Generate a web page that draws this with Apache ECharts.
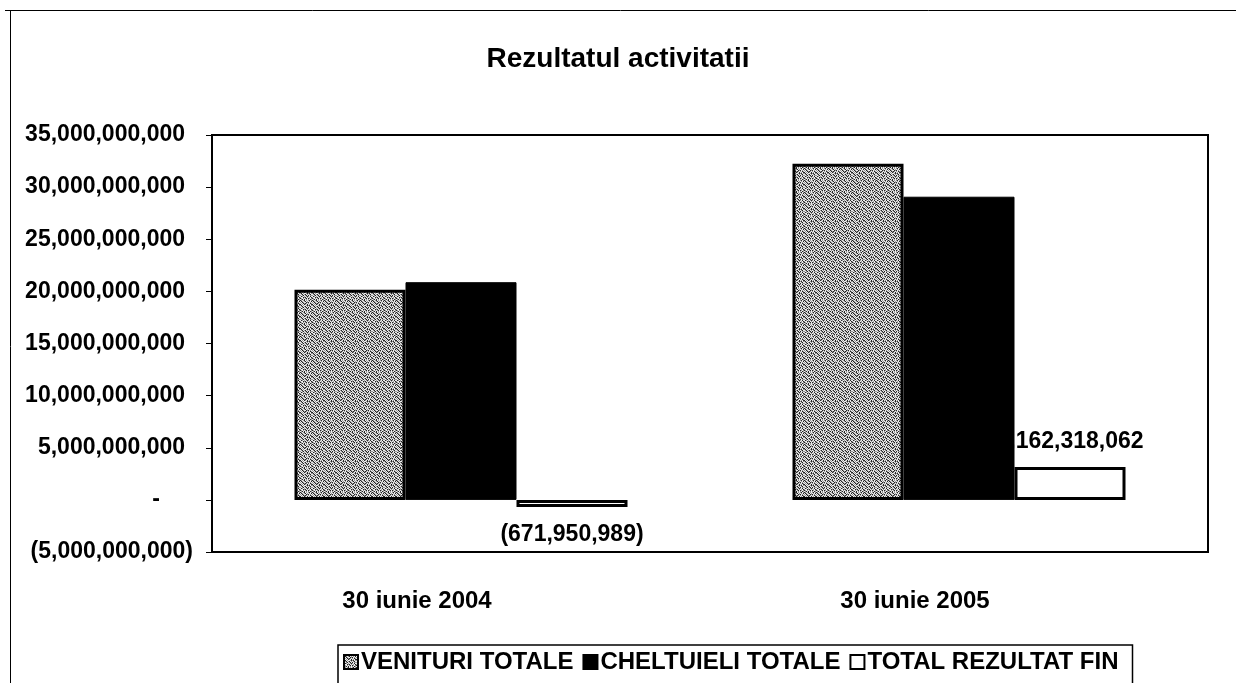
<!DOCTYPE html>
<html><head><meta charset="utf-8">
<script src="https://cdn.jsdelivr.net/npm/echarts@6/dist/echarts.min.js"></script>
<style>html,body{margin:0;padding:0;background:#fff}#c{width:1236px;height:683px}</style>
</head><body><div id="c"></div>
<script>
const titleText = 'Rezultatul activitatii';
const categories = ['30 iunie 2004', '30 iunie 2005'];
const seriesNames = ['VENITURI TOTALE', 'CHELTUIELI TOTALE', 'TOTAL REZULTAT FIN'];
const venituri = [20150000000, 32250000000];
const cheltuieli = [20880000000, 29080000000];
const rezultat = [-671950989, 3162318062];
const yMin = -5000000000, yMax = 35000000000, yStep = 5000000000;

const FONT = "'Liberation Sans', Arial, sans-serif";

function groupDigits(v) {
  return Math.abs(Math.round(v)).toString().replace(/\B(?=(\d{3})+(?!\d))/g, ',');
}
function fmt(v) {
  if (v === 0) return '-';
  const s = groupDigits(v);
  return v < 0 ? '(' + s + ')' : s;
}
function axisFmt(v) {
  if (v === 0) return '{z|-}';
  if (v < 0) return '{n|(' + groupDigits(v) + ')}';
  return '{p|' + groupDigits(v) + '}';
}

// stipple texture for the first series (fixed pixel map)
function makePattern() {
  const rows = [
    'kgwgkwgwgkwg',
    'wkgwgkwgwgwk',
    'gwkgwwkgkwgw',
    'wgwkgkgwgwkg',
    'kwgwkgwkwgwk',
    'gkwgwwgkgkwg',
    'wgkwgkwgwgkw',
    'gwgkwgkwkwgg',
    'wkgwgwgkgwkw',
    'gwwkgkwgwgwk',
    'kgwgwgkwkgwg',
    'wgkwkwgwgwkg'
  ];
  const col = { k: '#222222', g: '#999999', w: '#eeeeee' };
  const c = document.createElement('canvas');
  c.width = 12; c.height = 12;
  const ctx = c.getContext('2d');
  rows.forEach((r, y) => { for (let x = 0; x < r.length; x++) { ctx.fillStyle = col[r[x]]; ctx.fillRect(x, y, 1, 1); } });
  return c;
}

const chart = echarts.init(document.getElementById('c'), null, { renderer: 'canvas' });

const rezData = rezultat.map(v => ({
  value: v,
  label: {
    position: v < 0 ? 'bottom' : 'top',
    distance: v < 0 ? 16 : 14
  }
}));

const lblFont = { fontFamily: FONT, fontWeight: 'bold', fontSize: 23, color: '#000' };

chart.setOption({
  backgroundColor: '#fff',
  animation: false,
  title: {
    text: titleText, left: 'center', top: 40,
    textStyle: { fontFamily: FONT, fontWeight: 'bold', fontSize: 28, color: '#000' }
  },
  grid: { left: 212, right: 28, top: 135, bottom: 131, show: true, borderColor: '#000', borderWidth: 2, backgroundColor: 'transparent' },
  legend: {
    data: seriesNames,
    left: 338, top: 645,
    padding: [5, 14, 20, 5],
    borderColor: '#000', borderWidth: 1.5,
    itemWidth: 14, itemHeight: 14, itemGap: 9,
    icon: 'rect',
    textStyle: { fontFamily: FONT, fontWeight: 'bold', fontSize: 24, color: '#000', padding: [0, 0, 0, -2] }
  },
  xAxis: {
    type: 'category',
    data: categories,
    axisLine: { show: false },
    axisTick: { show: false },
    axisLabel: { margin: 37, fontFamily: FONT, fontWeight: 'bold', fontSize: 24, color: '#000', padding: [0, 88, 0, 0] }
  },
  yAxis: {
    type: 'value', min: yMin, max: yMax, interval: yStep,
    splitLine: { show: false },
    axisLine: { show: true, lineStyle: { color: '#000', width: 2 } },
    axisTick: { show: true, length: 6, lineStyle: { color: '#000', width: 1 } },
    axisLabel: {
      margin: 19, formatter: axisFmt, ...lblFont,
      rich: {
        p: { ...lblFont, padding: [0, 8, 0, 0] },
        n: { ...lblFont },
        z: { ...lblFont, padding: [0, 33, 0, 0] }
      }
    }
  },
  graphic: [
    { type: 'line', shape: { x1: 5, y1: 10.5, x2: 1236, y2: 10.5 }, style: { stroke: '#000', lineWidth: 1 } },
    { type: 'line', shape: { x1: 10.5, y1: 10, x2: 10.5, y2: 683 }, style: { stroke: '#000', lineWidth: 1 } }
  ],
  series: [
    {
      name: seriesNames[0], type: 'bar', data: venituri,
      barWidth: 111, barGap: '0%',
      itemStyle: { color: { image: makePattern(), repeat: 'repeat' }, borderColor: '#000', borderWidth: 3 }
    },
    {
      name: seriesNames[1], type: 'bar', data: cheltuieli,
      barWidth: 111, barGap: '0%',
      itemStyle: { color: '#000', borderColor: '#000', borderWidth: 1 }
    },
    {
      name: seriesNames[2], type: 'bar', data: rezData,
      barWidth: 111, barGap: '0%',
      itemStyle: { color: '#fff', borderColor: '#000', borderWidth: 3 },
      label: {
        show: true,
        ...lblFont,
        formatter: p => {
          const v = p.value;
          if (v > 0) {
            const parts = groupDigits(v).split(',');
            return '{h|' + parts[0] + ',}' + parts.slice(1).join(',');
          }
          return fmt(v);
        },
        rich: { h: { ...lblFont } }
      }
    }
  ]
});
</script>
</body></html>
